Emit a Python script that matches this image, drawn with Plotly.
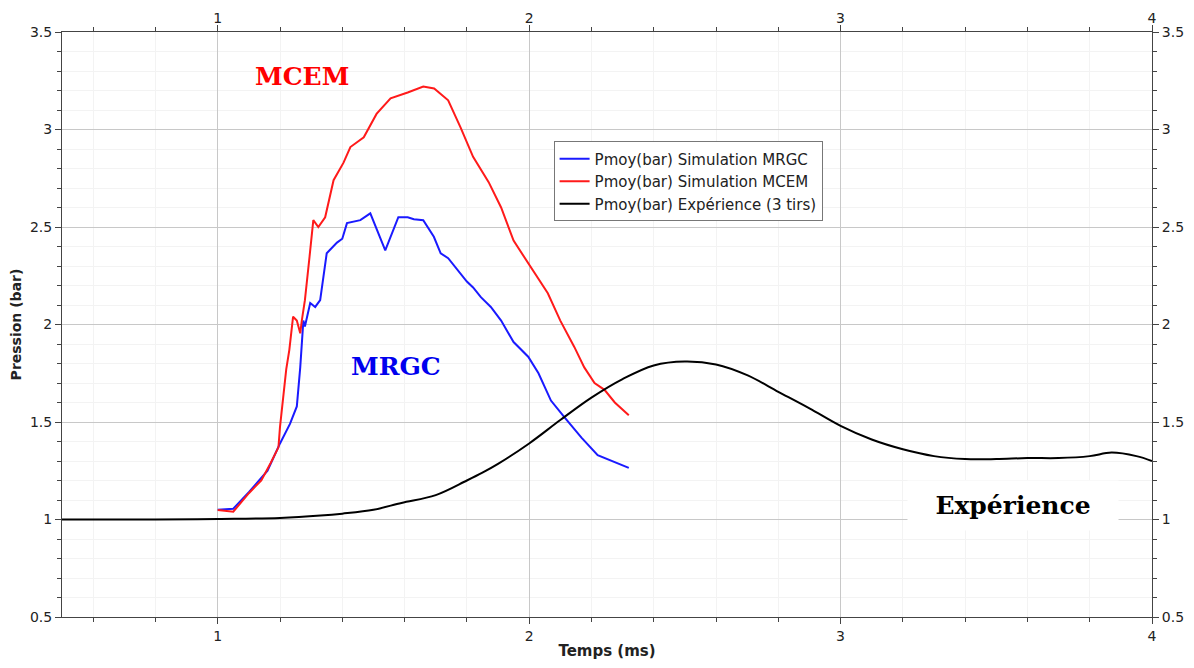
import plotly.graph_objects as go

# temps (ms) / pression moyenne (bar)
t_mrgc = [1.0, 1.05, 1.10, 1.16, 1.20, 1.232, 1.254, 1.265, 1.275, 1.28, 1.297, 1.313, 1.329, 1.35,
          1.383, 1.40, 1.415, 1.458, 1.49, 1.538, 1.58, 1.61, 1.63, 1.66, 1.694, 1.716, 1.74, 1.77,
          1.80, 1.82, 1.845, 1.877, 1.91, 1.95, 1.997, 2.03, 2.07, 2.113, 2.168, 2.22, 2.275, 2.32]
p_mrgc = [1.05, 1.055, 1.14, 1.25, 1.39, 1.49, 1.58, 1.78, 2.02, 1.99, 2.11, 2.09, 2.125, 2.365,
          2.42, 2.44, 2.52, 2.535, 2.57, 2.38, 2.55, 2.55, 2.54, 2.535, 2.45, 2.365, 2.34, 2.28,
          2.22, 2.19, 2.14, 2.09, 2.02, 1.91, 1.835, 1.75, 1.61, 1.525, 1.42, 1.33, 1.295, 1.265]

t_mcem = [1.0, 1.05, 1.10, 1.14, 1.17, 1.195, 1.20, 1.21, 1.22, 1.23, 1.242, 1.254, 1.265, 1.27,
          1.28, 1.295, 1.307, 1.323, 1.345, 1.372, 1.404, 1.426, 1.469, 1.51, 1.555, 1.61, 1.66,
          1.695, 1.74, 1.78, 1.82, 1.87, 1.91, 1.95, 2.006, 2.06, 2.10, 2.145, 2.177, 2.21, 2.242,
          2.275, 2.32]
p_mcem = [1.049, 1.04, 1.135, 1.20, 1.29, 1.37, 1.475, 1.61, 1.77, 1.87, 2.04, 2.02, 1.955, 2.02,
          2.125, 2.35, 2.535, 2.50, 2.55, 2.74, 2.83, 2.91, 2.96, 3.08, 3.16, 3.19, 3.22,
          3.21, 3.15, 3.01, 2.86, 2.73, 2.60, 2.43, 2.295, 2.16, 2.02, 1.885, 1.78, 1.70, 1.665,
          1.60, 1.535]

t_exp = [0.5, 0.8, 1.0, 1.2, 1.33, 1.4, 1.5, 1.59, 1.7, 1.8, 1.85, 1.9, 2.0, 2.1, 2.2, 2.3, 2.4,
         2.5, 2.6, 2.7, 2.8, 2.9, 3.0, 3.1, 3.2, 3.3, 3.4, 3.5, 3.6, 3.7, 3.8, 3.87, 3.95, 4.0]
p_exp = [1.0, 1.0, 1.003, 1.008, 1.02, 1.03, 1.05, 1.085, 1.125, 1.2, 1.24, 1.285, 1.39, 1.51,
         1.625, 1.72, 1.79, 1.81, 1.795, 1.74, 1.655, 1.57, 1.48, 1.41, 1.36, 1.325, 1.31, 1.31,
         1.315, 1.315, 1.325, 1.343, 1.325, 1.30]

x_ticks = [1, 2, 3, 4]
y_ticks = [0.5, 1, 1.5, 2, 2.5, 3, 3.5]
y_labels = ['0.5', '1', '1.5', '2', '2.5', '3', '3.5']

FONT = 'DejaVu Sans'
AXC = '#444444'
GRID = '#c8c8c8'
MINGRID = '#f3f3f3'

fig = go.Figure()
fig.add_trace(go.Scatter(x=t_mrgc, y=p_mrgc, mode='lines', name='Pmoy(bar) Simulation MRGC',
                         line=dict(color='#1a1aff', width=2)))
fig.add_trace(go.Scatter(x=t_mcem, y=p_mcem, mode='lines', name='Pmoy(bar) Simulation MCEM',
                         line=dict(color='#ff1a1a', width=2)))
fig.add_trace(go.Scatter(x=t_exp, y=p_exp, mode='lines', name='Pmoy(bar) Expérience (3 tirs)',
                         line=dict(color='black', width=2, shape='spline')))
# trace vide pour faire apparaitre les axes du haut et de droite
fig.add_trace(go.Scatter(x=t_exp, y=p_exp, mode='none', xaxis='x2', yaxis='y2',
                         showlegend=False, hoverinfo='skip'))

common_x = dict(range=[0.5, 4], tickmode='array', tickvals=x_ticks, ticktext=[str(v) for v in x_ticks],
                ticks='outside', ticklen=6, tickcolor=AXC, tickfont=dict(family=FONT, size=14, color='#222'),
                minor=dict(dtick=0.2, tick0=0, ticks='outside', ticklen=4, tickcolor=AXC,
                           showgrid=True, gridcolor=MINGRID),
                zeroline=False, automargin=False)
common_y = dict(range=[0.5, 3.5], tickmode='array', tickvals=y_ticks, ticktext=y_labels,
                ticks='outside', ticklen=6, tickcolor=AXC, tickfont=dict(family=FONT, size=14, color='#222'),
                minor=dict(dtick=0.1, tick0=0, ticks='outside', ticklen=4, tickcolor=AXC,
                           showgrid=True, gridcolor=MINGRID),
                zeroline=False, automargin=False)

# la page ajoute 8px de marge autour du graphique
fig.update_layout(
    width=1186, height=660,
    margin=dict(l=54, r=42, t=24, b=51),
    paper_bgcolor='white', plot_bgcolor='white',
    font=dict(family=FONT, color='#222'),
    xaxis=dict(**common_x, showgrid=True, gridcolor=GRID, gridwidth=1,
               showline=True, linecolor=AXC, linewidth=1, mirror=True,
               title=dict(text='<b>Temps (ms)</b>', font=dict(family=FONT, size=15), standoff=2)),
    yaxis=dict(**common_y, showgrid=True, gridcolor=GRID, gridwidth=1,
               showline=True, linecolor=AXC, linewidth=1, mirror=True,
               title=dict(text='<b>Pression (bar)</b>', font=dict(family=FONT, size=14), standoff=6)),
    xaxis2=dict(**common_x, overlaying='x', side='top', anchor='y2', showgrid=False, showline=False,
                ticklabelstandoff=-4),
    yaxis2=dict(**common_y, overlaying='y', side='right', anchor='x2', showgrid=False, showline=False),
    legend=dict(x=0.451, y=0.813, xanchor='left', yanchor='top', bgcolor='white',
                bordercolor='#777777', borderwidth=1, font=dict(family=FONT, size=15, color='#222'),
                tracegroupgap=0, itemwidth=30),
    showlegend=True,
)

SERIF = 'DejaVu Serif'
fig.add_annotation(x=1.271, y=3.274, text='<b>MCEM</b>', showarrow=False,
                   font=dict(family=SERIF, size=25, color='#ff0000'))
fig.add_annotation(x=1.574, y=1.787, text='<b>MRGC</b>', showarrow=False,
                   font=dict(family=SERIF, size=25, color='#0000ee'))
fig.add_annotation(x=3.555, y=1.074, text='<b>\u00a0\u00a0Expérience\u00a0\u00a0</b>', showarrow=False,
                   bgcolor='white', borderpad=10, font=dict(family=SERIF, size=25, color='black'))

fig.write_html("out.html")
